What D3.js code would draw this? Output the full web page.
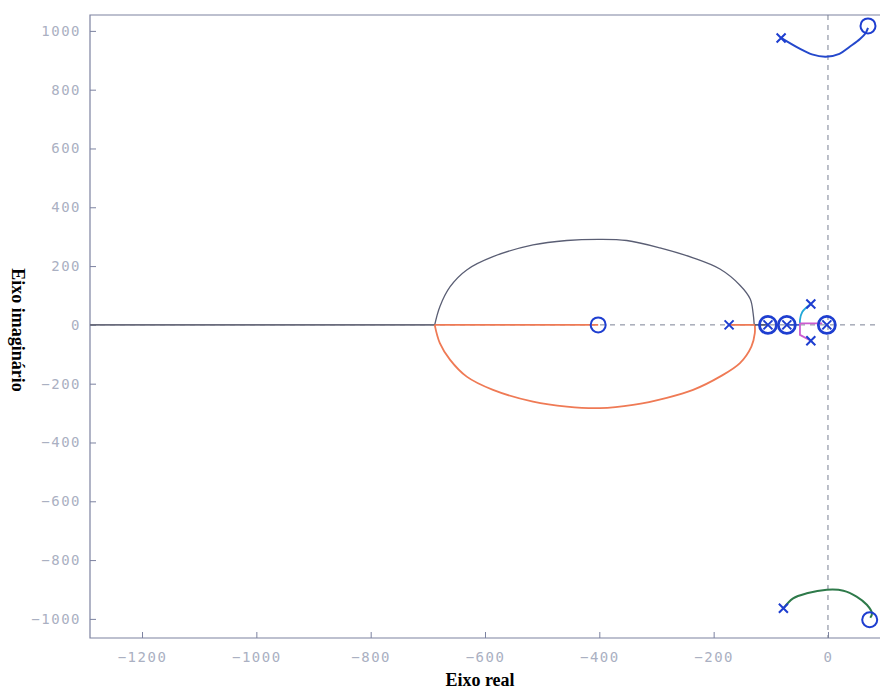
<!DOCTYPE html>
<html><head><meta charset="utf-8">
<script src="https://cdn.jsdelivr.net/npm/d3@7"></script>
<style>body{margin:0;background:#fff}svg{display:block}</style>
</head><body>
<script>
// ---- data ----
const xTicks = [-1200,-1000,-800,-600,-400,-200,0];
const yTicks = [-1000,-800,-600,-400,-200,0,200,400,600,800,1000];
const poles = [[-173,0],[-30,71],[-30,-54],[-82,976],[-78,-964]];
const zeros = [[-402,0],[70,1017],[73,-1003]];
const poleZeros = [[-105,0],[-72,0],[-2,0]];
const branchLeft = [[-1291,0],[-688,0]];
const branchUpper = [[-688,0],[-679,62],[-661,130],[-632,187],[-586,232],[-516,272],[-457,287],[-399,291],[-352,287],[-294,262],[-236,228],[-189,190],[-154,135],[-136,88],[-131,40],[-129,0]];
const branchLower = [[-688,0],[-679,-62],[-661,-119],[-632,-176],[-586,-221],[-516,-261],[-457,-278],[-399,-283],[-341,-272],[-282,-248],[-236,-221],[-189,-176],[-154,-130],[-134,-74],[-128,-28],[-128,0]];
const realOrange1 = [[-688,0],[-402,0]];
const realOrange2 = [[-173,0],[-128,0]];
const realDark1 = [[-128,0],[-105,0]];
const realDark2 = [[-72,0],[-49,0]];
const branchCyan = [[-30,71],[-45,44],[-49,17],[-49,5]];
const branchMagenta = [[-30,-54],[-49,-34],[-49,5],[-10,5]];
const arcTop = [[-82,976],[-52,942],[-28,920],[-4,912],[20,922],[38,946],[56,972],[66,993],[70,1010]];
const arcBottom = [[-78,-964],[-61,-930],[-37,-913],[-2,-901],[27,-904],[50,-924],[68,-952],[77,-981],[74,-996]];

// ---- layout ----
const W = 880, H = 690;
const L = 90, T = 15, R = 884, B = 638;
const x = d3.scaleLinear().domain([-1291, 98]).range([L, R]);
const y = d3.scaleLinear().domain([-1065, 1054]).range([B, T]);

const svg = d3.select("body").append("svg").attr("width", W).attr("height", H);
svg.append("defs").append("clipPath").attr("id","c")
  .append("rect").attr("x",L).attr("y",T).attr("width",R-L).attr("height",B-T);

const frameCol = "#7c82a0";
const tickCol = "#aab0c2";
svg.append("path").attr("d",`M${R},${T}H${L}V${B}H${R}`).attr("fill","none").attr("stroke",frameCol).attr("stroke-width",1.2);

const gx = svg.append("g").attr("transform",`translate(0,${B})`)
  .call(d3.axisTop(x).tickValues(xTicks).tickSize(6).tickFormat(d3.format("d")));
gx.select(".domain").remove();
gx.selectAll("line").attr("stroke",frameCol);
gx.selectAll("text").attr("y",14).attr("dy","0.71em").attr("fill",tickCol)
  .style("font-family","DejaVu Sans Mono, monospace").style("font-size","14px").style("letter-spacing","1.5px");

const gy = svg.append("g").attr("transform",`translate(${L},0)`)
  .call(d3.axisRight(y).tickValues(yTicks).tickSize(6).tickFormat(d3.format("d")));
gy.select(".domain").remove();
gy.selectAll("line").attr("stroke",frameCol);
gy.selectAll("text").attr("x",-9).attr("text-anchor","end").attr("fill",tickCol)
  .style("font-family","DejaVu Sans Mono, monospace").style("font-size","14px").style("letter-spacing","1.5px");

const plot = svg.append("g").attr("clip-path","url(#c)");
plot.append("line").attr("x1",L).attr("x2",R).attr("y1",y(0)).attr("y2",y(0))
  .attr("stroke","#7a8094").attr("stroke-dasharray","5,5").attr("stroke-width",1);
plot.append("line").attr("x1",x(0)).attr("x2",x(0)).attr("y1",T).attr("y2",B)
  .attr("stroke","#7a8094").attr("stroke-dasharray","5,5").attr("stroke-width",1);

const line = d3.line().x(d=>x(d[0])).y(d=>y(d[1]));
const smooth = d3.line().x(d=>x(d[0])).y(d=>y(d[1])).curve(d3.curveCatmullRom.alpha(0.5));
function draw(data, col, w, curve){
  plot.append("path").datum(data).attr("d", curve ? smooth : line)
    .attr("fill","none").attr("stroke",col).attr("stroke-width",w).attr("stroke-linejoin","round");
}
draw(branchLeft, "#6a6c7c", 1.8, false);
draw(branchUpper, "#5a5e74", 1.3, true);
draw(branchLower, "#ef7a55", 1.8, true);
draw(realOrange1, "#ef7a55", 1.8, false);
draw(realOrange2, "#ef7a55", 1.8, false);
draw(realDark1, "#4c5068", 1.6, false);
draw(realDark2, "#3050c0", 1.6, false);
draw(branchCyan, "#22a8d8", 1.8, true);
draw(branchMagenta, "#cc5cd0", 1.8, false);
draw(arcTop, "#2448cc", 2, true);
draw(arcBottom, "#2e7a4a", 2, true);

const mk = "#1e3ed0";
plot.selectAll(".z").data(zeros).join("circle")
  .attr("cx",d=>x(d[0])).attr("cy",d=>y(d[1])).attr("r",7.5)
  .attr("fill","none").attr("stroke",mk).attr("stroke-width",2);
const s = 4.5;
plot.selectAll(".p").data(poles).join("path")
  .attr("d",d=>{const cx=x(d[0]),cy=y(d[1]);return `M${cx-s},${cy-s}L${cx+s},${cy+s}M${cx-s},${cy+s}L${cx+s},${cy-s}`;})
  .attr("stroke",mk).attr("stroke-width",2);
const pz = plot.selectAll(".pz").data(poleZeros).join("g")
  .attr("transform",d=>`translate(${x(d[0])},${y(d[1])})`);
pz.append("circle").attr("r",8.5).attr("fill","none").attr("stroke",mk).attr("stroke-width",2.8);
pz.append("path").attr("d","M-4.5,-4.5L4.5,4.5M-4.5,4.5L4.5,-4.5").attr("stroke",mk).attr("stroke-width",2);

svg.append("text").attr("x",480).attr("y",686).attr("text-anchor","middle")
  .style("font-family","Liberation Serif, serif").style("font-size","18px").style("font-weight","bold")
  .text("Eixo real");
svg.append("text").attr("transform","translate(12,330) rotate(90)").attr("text-anchor","middle")
  .style("font-family","Liberation Serif, serif").style("font-size","18px").style("font-weight","bold")
  .text("Eixo imaginário");
</script>
</body></html>
